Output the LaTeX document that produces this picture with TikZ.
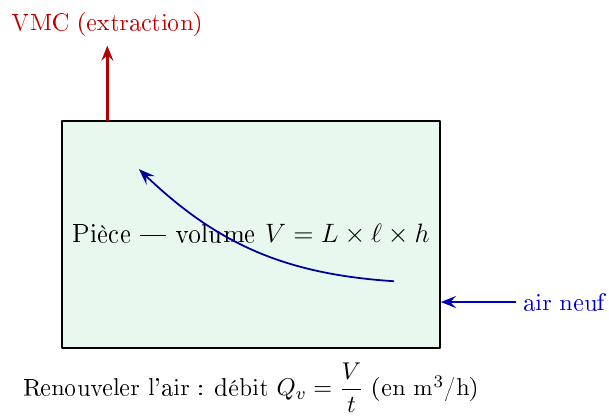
\documentclass[11pt,tikz,border=0pt]{standalone}
\usepackage[T1]{fontenc}
\usepackage{amsmath,amssymb}
\usepackage{xcolor}
\usepackage{tikz}
\usetikzlibrary{positioning,arrows.meta}

\definecolor{roomfill}{RGB}{232,248,238}

\begin{document}
\begin{tikzpicture}[>={Stealth[length=2.4mm, width=1.9mm, inset=0.9mm]}, line join=round]
    \useasboundingbox (-0.984,-1.095) rectangle (8.683,5.524);

    % --- Room (rectangle with label) ---
    \node[draw, thick, fill=roomfill, minimum width=6cm, minimum height=3.6cm,
          inner sep=0pt, font=\large] (piece) at (3,1.8)
        {Pi\`ece --- volume $V = L\times\ell\times h$};

    % --- Extraction (VMC) at top left ---
    \coordinate (vmcbase) at (0.72,3.6);
    \coordinate (vmctip) at (0.72,4.8);
    \draw[->, very thick, red!70!black] (vmcbase) -- (vmctip)
        node[above, red!75!black] (vmc) {VMC (extraction)};

    % --- Fresh air inlet (right side) ---
    \coordinate (airsrc) at (7.2,0.73);
    \draw[->, very thick, blue!75!black] (airsrc) -- (airsrc -| piece.east);
    \node[right, blue!80!black, inner sep=3.5pt] (airneuf) at (airsrc) {air neuf};

    % --- Air flow through the room ---
    \coordinate (flowstart) at (5.27,1.06);
    \coordinate (flowend) at (1.22,2.84);
    \draw[->, thick, blue!60!black, >={Stealth[length=2.6mm, width=1.9mm, inset=1mm]}]
        (flowstart) to[bend left=20] (flowend);

    % --- Caption ---
    \node (debit) at (3,-0.63)
        {Renouveler l'air : d\'ebit $Q_v = \dfrac{V}{t}$ (en m$^3$/h)};

\end{tikzpicture}
\end{document}
